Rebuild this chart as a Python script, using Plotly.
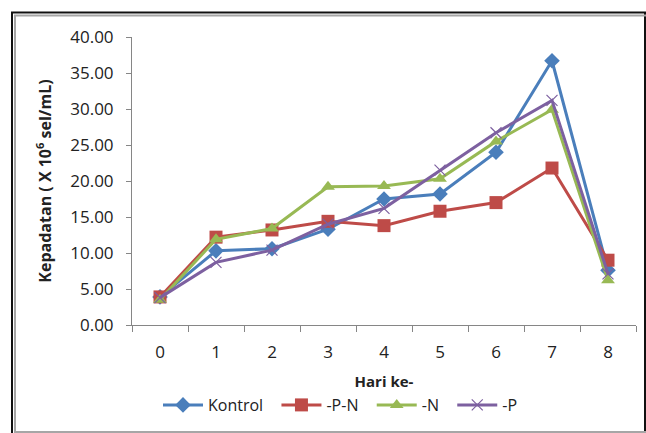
import plotly.graph_objects as go

# Hari pengamatan dan kepadatan sel (x 10^6 sel/mL)
hari = ["0", "1", "2", "3", "4", "5", "6", "7", "8"]
kontrol = [3.9, 10.3, 10.6, 13.3, 17.5, 18.2, 24.0, 36.7, 7.6]
minus_pn = [3.9, 12.2, 13.2, 14.4, 13.8, 15.8, 17.0, 21.8, 9.0]
minus_n = [3.5, 11.9, 13.4, 19.2, 19.3, 20.3, 25.5, 29.9, 6.2]
minus_p = [3.8, 8.7, 10.4, 14.0, 16.2, 21.5, 26.7, 31.2, 7.1]
y_ticks = [0, 5, 10, 15, 20, 25, 30, 35, 40]

W, H = 646, 433
L, R, T, B = 132, 10, 37, 108
PW, PH = W - L - R, H - T - B


def px_x(px):
    return (px - L) / PW


def px_y(py):
    return (H - B - py) / PH


FONT = "Open Sans, Lato, sans-serif"
GAP = "\u00a0\u00a0"  # extra room between legend entries

series = [
    ("Kontrol", kontrol, "#4A7EBB", dict(symbol="diamond", size=12, color="#4A7EBB")),
    ("-P-N", minus_pn, "#BE4B48", dict(symbol="square", size=13, color="#BE4B48")),
    ("-N", minus_n, "#98B954", dict(symbol="triangle-up", size=12, color="#98B954")),
    ("-P", minus_p, "#7D60A0", dict(symbol="x-thin", size=11, color="#7D60A0",
                                    line=dict(color="#7D60A0", width=1.2))),
]

fig = go.Figure()
for i, (name, vals, col, mk) in enumerate(series):
    label = name if i == len(series) - 1 else name + GAP
    fig.add_trace(go.Scatter(
        x=hari, y=vals, name=label, mode="lines+markers",
        line=dict(color=col, width=3), marker=mk,
    ))

fig.update_layout(
    width=W, height=H,
    margin=dict(l=L, r=R, t=T, b=B),
    paper_bgcolor="white", plot_bgcolor="white",
    font=dict(family=FONT, color="#222"),
    showlegend=True,
    legend=dict(
        orientation="h", x=px_x(158), xanchor="left", y=px_y(405), yanchor="middle",
        font=dict(size=16, family=FONT, color="#222"),
        itemwidth=40, tracegroupgap=0, bgcolor="rgba(0,0,0,0)",
    ),
    xaxis=dict(
        type="category", range=[-0.5, 8.5], showgrid=False,
        showline=True, linecolor="#868686", linewidth=1,
        ticks="outside", tickson="boundaries", ticklen=6, tickcolor="#868686",
        tickfont=dict(size=17, family=FONT, color="#222"),
        ticklabelstandoff=12,
        title=dict(text="<b>Hari ke-</b>", font=dict(size=15, family=FONT, color="#222"),
                   standoff=14),
    ),
    yaxis=dict(
        range=[0, 40], tickvals=y_ticks, tickformat=".2f", showgrid=False,
        zeroline=False, showline=True, linecolor="#868686", linewidth=1,
        ticks="outside", ticklen=5, tickcolor="#868686",
        tickfont=dict(size=17, family=FONT, color="#222"),
        ticklabelstandoff=9,
        title=dict(text="<b>Kepadatan ( X 10<sup>6</sup> sel/mL)</b>",
                   font=dict(size=16, family=FONT, color="#222"), standoff=14),
    ),
    shapes=[
        # outer dark frame
        dict(type="rect", xref="paper", yref="paper",
             x0=px_x(12), x1=px_x(645), y0=px_y(600), y1=px_y(12.5),
             line=dict(color="#111", width=2), fillcolor="rgba(0,0,0,0)", layer="above"),
        # inner grey frame
        dict(type="rect", xref="paper", yref="paper",
             x0=px_x(15), x1=px_x(900), y0=px_y(432), y1=px_y(15.5),
             line=dict(color="#A6A6A6", width=2), fillcolor="rgba(0,0,0,0)", layer="above"),
    ],
)

fig.write_html("out.html")
